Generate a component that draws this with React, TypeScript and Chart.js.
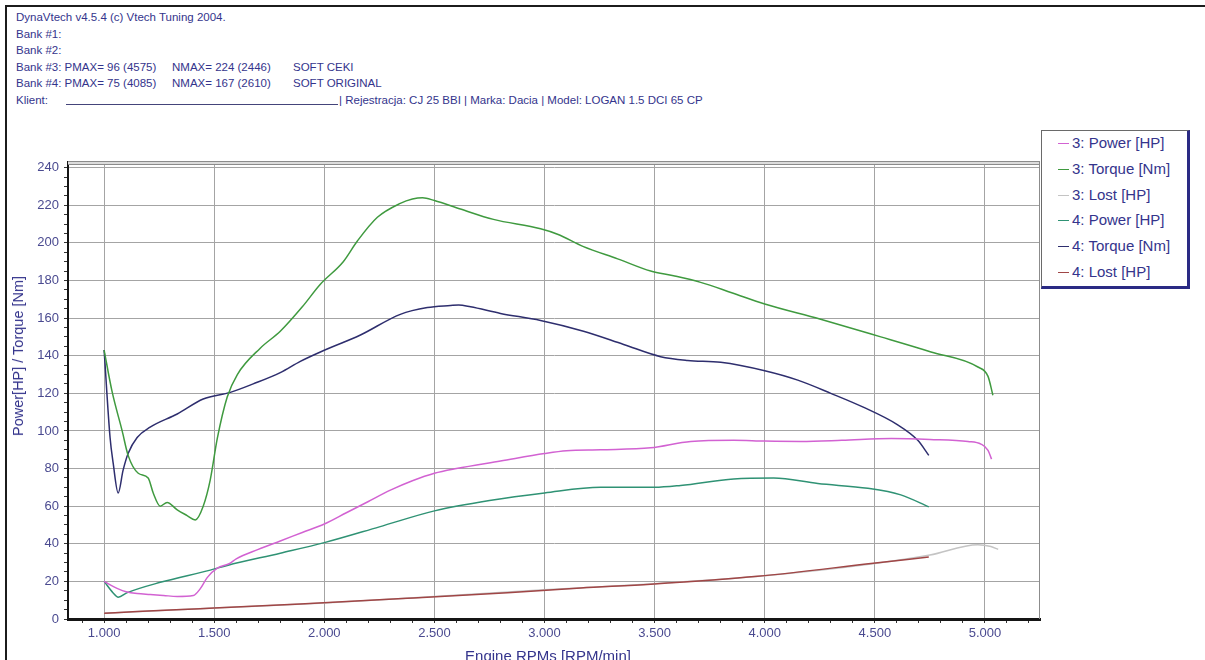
import React, { useEffect, useRef } from "react";
import { Chart, registerables } from "chart.js";

Chart.register(...registerables);

// ---------- data ----------
const P3_RPM = [1000, 1030, 1064, 1100, 1150, 1209, 1270, 1332, 1405, 1436, 1468, 1514, 1570, 1600, 1700, 1800, 1900, 2000, 2100, 2200, 2300, 2400, 2500, 2600, 2800, 3000, 3100, 3255, 3482, 3664, 3859, 4000, 4164, 4350, 4575, 4750, 4923, 4982, 5014, 5030];
const P3_VAL = [20, 18, 16, 14.5, 13.5, 13, 12.5, 12, 12.5, 16, 22, 27, 29.5, 32, 37, 41.5, 46, 50.5, 56.5, 62.5, 68.5, 73.5, 77.5, 80, 84, 88, 89.5, 90, 91, 94.4, 95, 94.6, 94.4, 95, 96, 95.5, 94.4, 93, 89.7, 85];

const T3_RPM = [1000, 1036, 1082, 1109, 1155, 1200, 1223, 1255, 1286, 1332, 1377, 1414, 1450, 1482, 1514, 1559, 1605, 1709, 1800, 1900, 1982, 2086, 2150, 2241, 2345, 2400, 2446, 2500, 2618, 2768, 2982, 3059, 3177, 3332, 3482, 3586, 3709, 3850, 4000, 4250, 4527, 4755, 4968, 5014, 5036];
const T3_VAL = [143, 121, 100, 87, 77.5, 75, 67, 60, 62, 58, 55, 52.7, 60, 74, 96, 118, 130, 144, 153, 166, 178, 190, 201, 213.6, 221, 223.3, 224, 222.5, 218, 212.5, 207.5, 204.6, 198, 191.5, 185, 182.5, 179, 173.5, 167.5, 159.5, 150, 142, 134, 129, 119];

const L3_RPM = [1000, 1500, 2000, 2500, 3000, 3500, 4000, 4500, 4750, 4968, 5027, 5060];
const L3_VAL = [3, 5.8, 8.5, 12, 15.5, 18.8, 23, 29.5, 34, 39.5, 38.5, 37];

const P4_RPM = [1000, 1040, 1064, 1105, 1255, 1482, 1559, 1800, 2000, 2250, 2500, 2750, 3000, 3255, 3500, 3618, 3859, 4041, 4241, 4468, 4618, 4745];
const P4_VAL = [20, 14, 11.6, 14, 19.5, 26, 28.5, 35, 40.6, 49, 57.5, 63, 67, 70, 70, 71, 74.5, 75, 72, 69.5, 66, 59.6];

const T4_RPM = [1000, 1027, 1041, 1064, 1086, 1109, 1150, 1209, 1332, 1450, 1573, 1677, 1800, 1891, 1982, 2164, 2345, 2468, 2573, 2610, 2664, 2800, 2982, 3177, 3359, 3527, 3650, 3800, 4000, 4150, 4300, 4450, 4600, 4695, 4745];
const T4_VAL = [143, 96.5, 83, 67, 79, 88, 96.5, 102, 109, 117, 120.5, 125, 131, 137, 142, 151, 162, 165.6, 166.7, 167, 166, 162.5, 158.7, 153, 146, 139.5, 137.5, 136.5, 132, 127, 120, 112.5, 103.5, 95, 87];

const L4_RPM = [1000, 1150, 1436, 1891, 2377, 2832, 3164, 3482, 3968, 4482, 4745];
const L4_VAL = [3, 4, 5.5, 8, 11, 14, 16.5, 18.5, 22.7, 29.5, 33];

const SERIES_LABELS = ["3: Power [HP]", "3: Torque [Nm]", "3: Lost [HP]", "4: Power [HP]", "4: Torque [Nm]", "4: Lost [HP]"];
const SERIES_COLORS = ["#d262d2", "#3f9a3f", "#c4c4c4", "#2f9274", "#2e2e6e", "#a04646"];
const SERIES_RPM = [P3_RPM, T3_RPM, L3_RPM, P4_RPM, T4_RPM, L4_RPM];
const SERIES_VAL = [P3_VAL, T3_VAL, L3_VAL, P4_VAL, T4_VAL, L4_VAL];

const X_LABEL_TICKS = [1000, 1500, 2000, 2500, 3000, 3500, 4000, 4500, 5000];
const Y_LABEL_TICKS = [0, 20, 40, 60, 80, 100, 120, 140, 160, 180, 200, 220, 240];

const HEADER_TITLE = "DynaVtech v4.5.4 (c) Vtech Tuning 2004.";
const BANK1 = "Bank #1:";
const BANK2 = "Bank #2:";
const BANK3 = ["Bank #3: PMAX= 96 (4575)", "NMAX= 224 (2446)", "SOFT CEKI"];
const BANK4 = ["Bank #4: PMAX= 75 (4085)", "NMAX= 167 (2610)", "SOFT ORIGINAL"];
const CLIENT_LABEL = "Klient:";
const CLIENT_INFO = "| Rejestracja: CJ 25 BBI | Marka: Dacia | Model: LOGAN 1.5 DCI 65 CP";
const X_TITLE = "Engine RPMs [RPM/min]";
const Y_TITLE = "Power[HP] / Torque [Nm]";

// ---------- styling ----------
const FONT = "'Liberation Sans', Arial, sans-serif";
const TEXT_COLOR = "#34348c";
const TICK_COLOR = "#4a4a90";
const GRID_COLOR = "#a4a4a4";

const fmtRpm = (v: number) => `${Math.floor(v / 1000)}.${String(v % 1000).padStart(3, "0")}`;

const framePlugin = {
  id: "plotFrame",
  afterDatasetsDraw(chart: any) {
    const { ctx, chartArea } = chart;
    const { left, top, right, bottom } = chartArea;
    ctx.save();
    ctx.fillStyle = "#dcdcdc";
    ctx.fillRect(left, top - 1, right - left, 4);
    ctx.strokeStyle = "#8c8c8c";
    ctx.lineWidth = 1;
    ctx.beginPath();
    ctx.moveTo(left, top - 0.5);
    ctx.lineTo(right, top - 0.5);
    ctx.moveTo(left, top + 2.5);
    ctx.lineTo(right, top + 2.5);
    ctx.moveTo(right - 0.5, top - 1);
    ctx.lineTo(right - 0.5, bottom);
    ctx.stroke();
    ctx.restore();
  },
};

export default function App() {
  const canvasRef = useRef<HTMLCanvasElement | null>(null);

  useEffect(() => {
    if (!canvasRef.current) return;
    const datasets = SERIES_LABELS.map((label, i) => ({
      label,
      data: SERIES_RPM[i].map((x, j) => ({ x, y: SERIES_VAL[i][j] })),
      borderColor: SERIES_COLORS[i],
      backgroundColor: SERIES_COLORS[i],
      borderWidth: 1.5,
      pointRadius: 0,
      cubicInterpolationMode: "monotone" as const,
      fill: false,
      order: i === 2 ? 10 : 0,
    }));

    const chart = new Chart(canvasRef.current, {
      type: "line",
      data: { datasets },
      plugins: [framePlugin],
      options: {
        animation: false,
        responsive: false,
        devicePixelRatio: 1,
        layout: { padding: { top: 162, right: 165, left: 0, bottom: 0 } },
        plugins: { legend: { display: false }, tooltip: { enabled: false }, title: { display: false } },
        scales: {
          x: {
            type: "linear",
            min: 836,
            max: 5250,
            afterFit: (s: any) => {
              s.height = 41;
            },
            afterBuildTicks: (s: any) => {
              const t: { value: number }[] = [];
              for (let v = 900; v <= 5200; v += 100) t.push({ value: v });
              s.ticks = t;
            },
            grid: {
              color: (c: any) => (c.tick && X_LABEL_TICKS.includes(c.tick.value) ? GRID_COLOR : "rgba(0,0,0,0)"),
              tickColor: "#333",
              tickLength: 4,
              lineWidth: 1,
            },
            border: { display: true, color: "#151515", width: 3 },
            ticks: {
              autoSkip: false,
              maxRotation: 0,
              padding: 3,
              color: TICK_COLOR,
              font: { family: FONT, size: 13 },
              callback: (v: any) => (X_LABEL_TICKS.includes(Number(v)) ? fmtRpm(Number(v)) : ""),
            },
          },
          y: {
            type: "linear",
            min: 0,
            max: 243,
            afterFit: (s: any) => {
              s.width = 68;
            },
            afterBuildTicks: (s: any) => {
              const t: { value: number }[] = [];
              for (let v = 0; v <= 240; v += 5) t.push({ value: v });
              s.ticks = t;
            },
            grid: {
              color: (c: any) => (c.tick && Y_LABEL_TICKS.includes(c.tick.value) && c.tick.value !== 0 ? GRID_COLOR : "rgba(0,0,0,0)"),
              tickColor: "#333",
              tickLength: 4,
              lineWidth: 1,
            },
            border: { display: true, color: "#151515", width: 2 },
            ticks: {
              autoSkip: false,
              padding: 5,
              color: TICK_COLOR,
              font: { family: FONT, size: 13 },
              callback: (v: any) => (Y_LABEL_TICKS.includes(Number(v)) ? String(v) : ""),
            },
          },
        },
      },
    });
    return () => chart.destroy();
  }, []);

  const ROW_CENTERS = [17, 33.5, 50, 66.5, 83, 99.5];
  const lineStyle = (row: number, left: number): React.CSSProperties => ({
    position: "absolute",
    top: ROW_CENTERS[row] - 7,
    left,
    fontSize: 11.5,
    lineHeight: "14px",
    color: TEXT_COLOR,
    whiteSpace: "nowrap",
  });

  const legendTop = 130;
  const legendRowCenters = [143, 168.5, 194.5, 220, 246, 271.5];

  return (
    <div
      style={{
        position: "absolute",
        left: 0,
        top: 0,
        width: 1205,
        height: 660,
        overflow: "hidden",
        background: "#fff",
        fontFamily: FONT,
      }}
    >
      <div
        style={{
          position: "absolute",
          left: 5,
          top: 5,
          width: 1210,
          height: 660,
          borderTop: "2px solid #1c1c1c",
          borderLeft: "2px solid #1c1c1c",
        }}
      />
      <div style={lineStyle(0, 16)}>{HEADER_TITLE}</div>
      <div style={lineStyle(1, 16)}>{BANK1}</div>
      <div style={lineStyle(2, 16)}>{BANK2}</div>
      <div style={lineStyle(3, 16)}>{BANK3[0]}</div>
      <div style={lineStyle(3, 172)}>{BANK3[1]}</div>
      <div style={lineStyle(3, 293)}>{BANK3[2]}</div>
      <div style={lineStyle(4, 16)}>{BANK4[0]}</div>
      <div style={lineStyle(4, 172)}>{BANK4[1]}</div>
      <div style={lineStyle(4, 293)}>{BANK4[2]}</div>
      <div style={lineStyle(5, 16)}>{CLIENT_LABEL}</div>
      <div
        style={{
          position: "absolute",
          left: 66,
          top: ROW_CENTERS[5] + 4,
          width: 272,
          height: 0,
          borderTop: "1px solid #44447a",
        }}
      />
      <div style={lineStyle(5, 339)}>{CLIENT_INFO}</div>

      <canvas
        ref={canvasRef}
        width={1205}
        height={660}
        style={{ position: "absolute", left: 0, top: 0, width: 1205, height: 660 }}
      />

      <div
        style={{
          position: "absolute",
          left: 18,
          top: 356,
          transform: "translate(-50%, -50%) rotate(-90deg)",
          fontSize: 14.5,
          color: TEXT_COLOR,
          whiteSpace: "nowrap",
        }}
      >
        {Y_TITLE}
      </div>
      <div
        style={{
          position: "absolute",
          left: 548,
          top: 655,
          transform: "translate(-50%, -50%)",
          fontSize: 15,
          color: TEXT_COLOR,
          whiteSpace: "nowrap",
        }}
      >
        {X_TITLE}
      </div>

      <div
        style={{
          position: "absolute",
          left: 1041,
          top: legendTop,
          width: 145,
          height: 155,
          background: "#fff",
          border: "1px solid #6a6a6a",
          borderRight: "3px solid #2a2a84",
          borderBottom: "3px solid #2a2a84",
        }}
      >
        {SERIES_LABELS.map((label, i) => (
          <div
            key={label}
            style={{
              position: "absolute",
              left: 0,
              top: legendRowCenters[i] - legendTop - 1 - 9,
              height: 18,
              width: 145,
            }}
          >
            <div
              style={{
                position: "absolute",
                left: 16,
                top: 9,
                width: 11,
                height: 0,
                borderTop: `1.5px solid ${SERIES_COLORS[i]}`,
              }}
            />
            <div
              style={{
                position: "absolute",
                left: 30,
                top: 0,
                lineHeight: "18px",
                fontSize: 15,
                color: TEXT_COLOR,
                whiteSpace: "nowrap",
              }}
            >
              {label}
            </div>
          </div>
        ))}
      </div>
    </div>
  );
}
